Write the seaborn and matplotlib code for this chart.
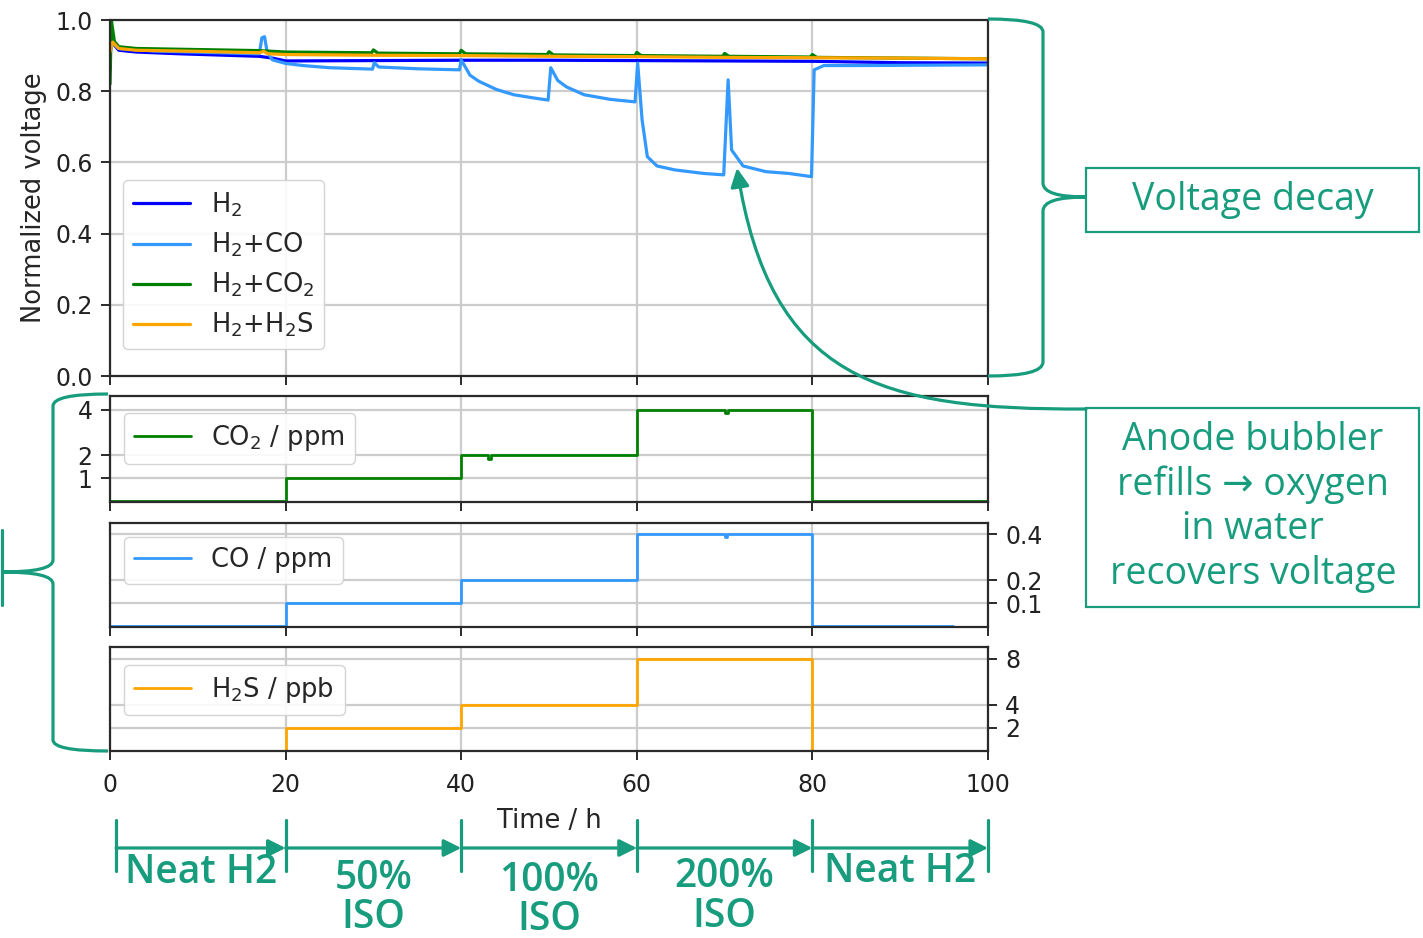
import matplotlib
matplotlib.use("Agg")
import numpy as np
import pandas as pd
import matplotlib.pyplot as plt
import seaborn as sns
from matplotlib.path import Path
from matplotlib.patches import PathPatch, FancyArrowPatch, Rectangle
from matplotlib.lines import Line2D
from matplotlib.transforms import Affine2D, blended_transform_factory

# ---------------- data ----------------
series_names = ["H$_2$", "H$_2$+CO", "H$_2$+CO$_2$", "H$_2$+H$_2$S"]
series_colors = ["#0000ff", "#3399ff", "#008000", "#ffa500"]

h2_time = [0, 0.1, 0.3, 1, 3, 8, 17, 18.5, 20, 30, 40, 50, 60, 70, 80, 90, 100]
h2_volt = [0.86, 0.96, 0.935, 0.915, 0.91, 0.905, 0.898, 0.893, 0.885, 0.886, 0.887,
           0.887, 0.886, 0.885, 0.884, 0.88, 0.879]

co_time = [0, 0.3, 1, 5, 17, 17.3, 17.6, 17.9, 18.5, 20, 22, 25, 29.9, 30.1, 30.6, 35,
           39.8, 40.0, 41, 42, 44, 46, 48, 49.9, 50.2, 51, 52, 54, 57, 59.8, 60.1,
           60.6, 61.2, 62.3, 64.3, 67.6, 69.9, 70.4, 70.8, 72.1, 74.7, 77.3, 79.9,
           80.2, 81.3, 85, 100]
co_volt = [0.91, 0.935, 0.92, 0.913, 0.905, 0.95, 0.953, 0.91, 0.888, 0.878, 0.872,
           0.866, 0.862, 0.88, 0.868, 0.863, 0.86, 0.888, 0.845, 0.828, 0.805, 0.79,
           0.782, 0.775, 0.866, 0.83, 0.812, 0.79, 0.777, 0.77, 0.879, 0.72, 0.616,
           0.59, 0.579, 0.569, 0.565, 0.832, 0.635, 0.59, 0.574, 0.569, 0.56, 0.86,
           0.872, 0.872, 0.874]

co2_v_time = [0, 0.15, 0.5, 1, 3, 10, 17, 20, 29.8, 30, 30.5, 39.8, 40, 40.5, 49.8,
              50, 50.5, 59.8, 60, 60.5, 69.8, 70, 70.5, 79.8, 80, 80.5, 100]
co2_v_volt = [0.82, 1.0, 0.94, 0.925, 0.92, 0.917, 0.914, 0.91, 0.908, 0.916, 0.907,
              0.905, 0.915, 0.905, 0.903, 0.911, 0.902, 0.9, 0.909, 0.9, 0.898, 0.906,
              0.898, 0.896, 0.903, 0.895, 0.891]

h2s_v_time = [0, 0.3, 1, 3, 10, 17, 17.5, 18, 20, 30, 40, 50, 60, 70, 80, 90, 100]
h2s_v_volt = [0.91, 0.938, 0.92, 0.915, 0.912, 0.908, 0.912, 0.905, 0.903, 0.901, 0.9,
              0.898, 0.897, 0.895, 0.894, 0.893, 0.891]

co2_time = [0, 20, 40, 43, 43.4, 60, 70, 70.4, 80, 100]
co2_ppm = [0, 1, 2, 1.85, 2, 4, 3.85, 4, 0, 0]
co_conc_time = [0, 20, 40, 60, 70, 70.3, 80, 96]
co_ppm = [0, 0.1, 0.2, 0.4, 0.39, 0.4, 0, 0]
h2s_time = [0, 20, 40, 60, 80, 98]
h2s_ppb = [0, 2, 4, 8, 0, 0]

phase_edges = [0.7, 20, 40, 60, 80, 100]
phase_labels = [["Neat H2"], ["50%", "ISO"], ["100%", "ISO"], ["200%", "ISO"], ["Neat H2"]]

TEAL = "#179c7d"

# ---------------- style ----------------
sns.set_theme(style="ticks")
plt.rcParams["font.family"] = ["DejaVu Sans"]
plt.rcParams["mathtext.fontset"] = "dejavusans"
plt.rcParams["axes.edgecolor"] = "#2a2a2a"
plt.rcParams["axes.linewidth"] = 1.6
plt.rcParams["xtick.color"] = "#2a2a2a"
plt.rcParams["ytick.color"] = "#2a2a2a"
plt.rcParams["xtick.labelcolor"] = "#222222"
plt.rcParams["ytick.labelcolor"] = "#222222"

W, H = 1423, 938
fig = plt.figure(figsize=(W / 100, H / 100), dpi=100)
fig.patch.set_facecolor("white")
px = Affine2D().scale(1, -1).translate(0, H)  # pixel coords, origin top-left


def add_axes_px(x0, y0, x1, y1):
    return fig.add_axes([x0 / W, 1 - y1 / H, (x1 - x0) / W, (y1 - y0) / H])


ax0 = add_axes_px(110, 20, 988, 376)
ax1 = add_axes_px(110, 396, 988, 502)
ax2 = add_axes_px(110, 523, 988, 627)
ax3 = add_axes_px(110, 647, 988, 751)

# top panel
frames = []
for name, t, v in zip(series_names,
                      [h2_time, co_time, co2_v_time, h2s_v_time],
                      [h2_volt, co_volt, co2_v_volt, h2s_v_volt]):
    frames.append(pd.DataFrame({"time": t, "voltage": v, "series": name}))
df = pd.concat(frames, ignore_index=True)
sns.lineplot(data=df, x="time", y="voltage", hue="series", hue_order=series_names,
             palette=dict(zip(series_names, series_colors)), estimator=None,
             sort=False, lw=2.3, ax=ax0)
handles, labels = ax0.get_legend_handles_labels()
ax0.legend(handles, labels, loc="upper left", bbox_to_anchor=(0.015, 0.55),
           borderaxespad=0, fontsize=18.5, frameon=True, fancybox=True,
           edgecolor="#d0d0d0", framealpha=0.9, handlelength=2.2, labelspacing=0.45)
ax0.set_ylim(0, 1.0)
ax0.set_yticks(np.arange(0, 1.01, 0.2))
ax0.set_ylabel("Normalized voltage", fontsize=18.5, labelpad=6)
ax0.set_xlabel("")
ax0.tick_params(labelbottom=False)

conc = [(ax1, co2_time, co2_ppm, "#008000", "CO$_2$ / ppm", (-0.05, 4.6), [1, 2, 4], "left", 0.84),
        (ax2, co_conc_time, co_ppm, "#3399ff", "CO / ppm", (-0.003, 0.45), [0.1, 0.2, 0.4], "right", 0.865),
        (ax3, h2s_time, h2s_ppb, "#ffa500", "H$_2$S / ppb", (0.0, 9.0), [2, 4, 8], "right", 0.83)]
for ax, t, v, c, lab, yl, yt, side, ytop in conc:
    sns.lineplot(x=t, y=v, drawstyle="steps-post", estimator=None, sort=False,
                 color=c, lw=2.0, ax=ax, label=lab)
    ax.legend(loc="upper left", bbox_to_anchor=(0.016, ytop), borderaxespad=0,
              fontsize=18.5, frameon=True, fancybox=True, edgecolor="#d0d0d0",
              framealpha=0.9, handlelength=2.2)
    ax.set_ylim(*yl)
    ax.set_yticks(yt)
    if side == "right":
        ax.yaxis.tick_right()
    ax.set_ylabel("")
    ax.set_xlabel("")
    if ax is not ax3:
        ax.tick_params(labelbottom=False)

for ax in [ax0, ax1, ax2, ax3]:
    ax.set_xlim(0, 100)
    ax.set_xticks([0, 20, 40, 60, 80, 100])
    ax.grid(True, color="#cccccc", lw=1.6)
    ax.set_axisbelow(True)
    ax.tick_params(direction="out", length=6.5, width=1.4, labelsize=17, pad=6)
    for s in ax.spines.values():
        s.set_visible(True)
        s.set_color("#2a2a2a")
        s.set_linewidth(1.6)
ax3.tick_params(axis="x", pad=9)
ax3.set_xlabel("Time / h", fontsize=18.5, labelpad=8)

# ---------------- annotations ----------------
# right brace
rb = Path([(988, 19), (1043, 19), (1043, 32), (1043, 183), (1043, 197), (1086, 197),
           (1043, 197), (1043, 211), (1043, 362), (1043, 376), (988, 376)],
          [Path.MOVETO, Path.CURVE3, Path.CURVE3, Path.LINETO, Path.CURVE3, Path.CURVE3,
           Path.CURVE3, Path.CURVE3, Path.LINETO, Path.CURVE3, Path.CURVE3])
fig.add_artist(PathPatch(rb, transform=px, fill=False, edgecolor=TEAL, lw=2.3))
# left brace
lb = Path([(108, 394), (53, 394), (53, 406), (53, 560), (53, 572), (2, 572),
           (53, 572), (53, 584), (53, 740), (53, 751), (108, 751)],
          [Path.MOVETO, Path.CURVE3, Path.CURVE3, Path.LINETO, Path.CURVE3, Path.CURVE3,
           Path.CURVE3, Path.CURVE3, Path.LINETO, Path.CURVE3, Path.CURVE3])
fig.add_artist(PathPatch(lb, transform=px, fill=False, edgecolor=TEAL, lw=2.3))
fig.add_artist(Line2D([1.5, 1.5], [530, 605], transform=px, color=TEAL, lw=2.3))

# boxes
fig.add_artist(Rectangle((1086, 168), 333, 64, transform=px, fill=True, facecolor="white",
                         edgecolor=TEAL, lw=1.6))
fig.add_artist(Rectangle((1086, 408), 333, 199, transform=px, fill=True, facecolor="white",
                         edgecolor=TEAL, lw=1.6))
fig.text(1253, 200, "Voltage decay", transform=px, ha="center", va="center",
         fontsize=27, color=TEAL, family="Open Sans")
for i, line in enumerate(["Anode bubbler", "refills \u2192 oxygen", "in water", "recovers voltage"]):
    fig.text(1253, 440 + i * 44.7, line, transform=px, ha="center", va="center",
             fontsize=27, color=TEAL, family=["Open Sans", "DejaVu Sans"])

# curved arrow
cp = Path([(1086, 409), (880, 410), (770, 380), (737, 168)],
          [Path.MOVETO, Path.CURVE4, Path.CURVE4, Path.CURVE4])
cp = px.transform_path(cp)
fig.add_artist(FancyArrowPatch(path=cp, arrowstyle="-|>", mutation_scale=28,
                               color=TEAL, lw=2.3, transform=None))

# timeline
tl = blended_transform_factory(ax3.transData, px)
for xe in phase_edges:
    fig.add_artist(Line2D([xe, xe], [820, 871], transform=tl, color=TEAL, lw=2.3))
for a, b in zip(phase_edges[:-1], phase_edges[1:]):
    fig.add_artist(FancyArrowPatch((a, 848), (b, 848), transform=tl, arrowstyle="-|>",
                                   mutation_scale=26, color=TEAL, lw=2.3,
                                   shrinkA=0, shrinkB=0))
label_y = [[873], [879, 918], [881, 920], [877, 917], [872]]
for a, b, lines, ys in zip(phase_edges[:-1], phase_edges[1:], phase_labels, label_y):
    xc = (a + b) / 2
    for line, y in zip(lines, ys):
        fig.text(xc, y, line, transform=tl, ha="center", va="center", fontsize=28,
                 color=TEAL, family="Open Sans", weight="semibold")

fig.savefig("out.png", dpi=100)
